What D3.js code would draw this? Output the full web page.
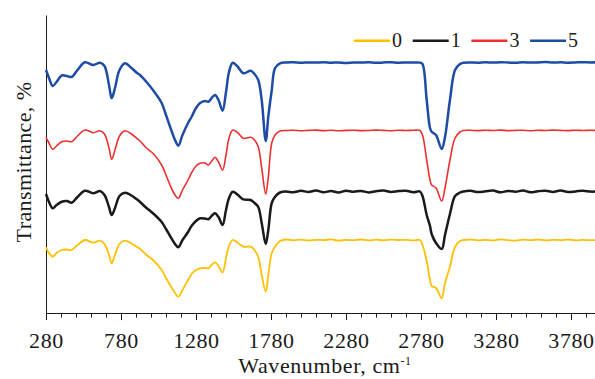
<!DOCTYPE html>
<html>
<head>
<meta charset="utf-8">
<script src="https://cdn.jsdelivr.net/npm/d3@7"></script>
<style>
  body { margin: 0; background: #fff; }
  svg { display: block; font-family: "Liberation Serif", "Times New Roman", serif; }
</style>
</head>
<body>
<svg id="chart" width="595" height="379"></svg>
<script>
// wavenumber, cm-1 (shared by all series)
const wavenumbers = [
    280, 300, 325, 350, 385, 420, 451, 490, 540, 595,
    640, 670, 700, 718, 740, 770, 807, 850, 885, 907,
    950, 993, 1051, 1080, 1107, 1140, 1162, 1190, 1227, 1250,
    1280, 1307, 1340, 1362, 1390, 1407, 1430, 1457, 1480, 1500,
    1525, 1560, 1595, 1645, 1670, 1695, 1718, 1745, 1762, 1785,
    1807, 1840, 1880, 1930, 1980, 2030, 2080, 2130, 2180, 2230,
    2280, 2330, 2380, 2430, 2480, 2530, 2580, 2630, 2680, 2730,
    2773, 2790, 2818, 2840, 2851, 2880, 2918, 2940, 2973, 3007,
    3040, 3062, 3110, 3160, 3210, 3260, 3310, 3360, 3410, 3460,
    3510, 3560, 3610, 3660, 3710, 3760, 3810, 3860, 3910, 3950
];

// transmittance (arbitrary units, curves are stacked)
const series0 = [
    65.7, 60, 56.3, 60, 63, 63.5, 63, 68, 73, 70.3,
    72.3, 69, 58, 49.7, 58, 69, 72.3, 69.5, 66.3, 64,
    58, 53, 43, 35, 28, 20, 16.3, 23, 33, 39,
    43, 44.7, 45, 44.7, 49, 50.7, 47, 40.3, 55, 67,
    73, 70, 66.3, 66.3, 63, 56, 38, 21.3, 38, 60,
    66.3, 72, 73.5, 72.7, 73.4, 72.5, 73.2, 72.9, 73.6, 72.4,
    73.1, 72.8, 73.5, 72.6, 73.3, 72.7, 73.4, 73, 73.2, 72.6,
    73, 68, 52, 33, 27, 25, 14.7, 30, 46.3, 66,
    72, 73, 73.4, 72.7, 73.2, 72.5, 73.6, 72.9, 72.4, 73.3,
    72.8, 73.5, 72.6, 73.2, 72.9, 73.4, 72.7, 73.1, 72.8, 73
];
const series1 = [
    119, 111, 104.7, 108, 111.3, 112, 110.3, 116, 122.3, 119.7,
    122, 118, 106, 98, 105, 117, 120.3, 117.5, 113.7, 111,
    105, 99.7, 91, 84, 77, 69, 65.7, 73, 81, 87,
    92, 94.7, 94.5, 93.7, 98, 99.7, 96, 88, 103, 115,
    121.3, 118, 113.7, 113, 110, 106, 90, 69, 83, 110,
    116.3, 120.5, 121.5, 120.7, 122.2, 121.1, 122.5, 120.8, 122, 120.5,
    122.3, 121.2, 122.1, 120.6, 121.8, 122.4, 121, 121.9, 122.2, 120.8,
    121.5, 117, 98, 87, 79, 70, 64, 78, 99, 117,
    120.5, 121.5, 122.2, 120.9, 121.7, 122.4, 120.7, 122, 121.3, 122.5,
    120.8, 121.8, 122.2, 121.1, 122.4, 121, 121.6, 122.3, 121.4, 121.5
];
const series3 = [
    175.7, 170, 163.7, 167, 171.3, 172, 171.3, 177, 183, 180.3,
    182.3, 179, 165, 153.7, 163, 177, 182.3, 179, 174.7, 172,
    165, 159.7, 148, 138, 128, 118, 114.7, 123, 133, 140,
    147, 149.7, 150, 148, 153, 155.7, 151, 143, 158, 175,
    183, 180, 174.7, 175.7, 173, 166.3, 145, 119, 136, 170,
    178, 182, 182.5, 182.7, 182.3, 182.6, 182.9, 182.4, 182.7, 182.2,
    182.6, 182.8, 182.4, 182.5, 182.9, 182.6, 182.3, 182.7, 182.5, 182.8,
    182.5, 178, 153, 133, 128, 125, 112, 125, 153, 175,
    181, 182.5, 182.7, 182.4, 182.8, 182.5, 182.9, 182.4, 182.6, 182.8,
    182.3, 182.7, 182.5, 182.9, 182.6, 182.4, 182.8, 182.5, 182.7, 182.6
];
const series5 = [
    243, 235, 227, 231, 237.5, 237, 236, 243, 250.7, 248,
    250.3, 247, 228, 214.7, 225, 243, 249.7, 245, 240.3, 238,
    231, 223, 210, 198, 186.3, 173, 167.3, 178, 190, 196,
    205, 210, 212, 211.3, 216, 218, 213, 202.3, 221, 241,
    250.3, 246, 239.7, 242.3, 239, 233, 213, 172, 196.3, 223,
    245, 249.7, 250.5, 250.7, 250.2, 250.6, 250.4, 250.8, 250.3, 250.5,
    250.1, 250.6, 250.4, 250.7, 250.2, 250.5, 250.8, 250.3, 250.6, 250.5,
    250.4, 249, 213, 185, 181.3, 178, 164, 176, 213, 243,
    249, 250.3, 250.6, 250.3, 250.7, 250.4, 250.8, 250.5, 250.2, 250.7,
    250.4, 250.6, 250.9, 250.4, 250.7, 250.3, 250.6, 250.8, 250.5, 250.7
];

const seriesNames = ["0", "1", "3", "5"];
const seriesValues = [series0, series1, series3, series5];
const seriesColors = ["#FFC000", "#1a1a1a", "#EE2F2F", "#1D4CA6"];
const seriesWidths = [1.8, 2.5, 1.6, 2.5];
const xTickLabels = [280, 780, 1280, 1780, 2280, 2780, 3280, 3780];

const svg = d3.select('#chart');
const x = d3.scaleLinear().domain([280, 4000]).range([46, 604]);
const y = d3.scaleLinear().domain([0, 298]).range([313, 15]);

// minor ticks every 100
svg.append('g')
    .attr('transform', 'translate(0,313)')
    .call(d3.axisBottom(x)
        .tickValues(d3.range(380, 4000, 100).filter(v => (v - 280) % 500 !== 0))
        .tickSize(4.5)
        .tickSizeOuter(0)
        .tickFormat(''))
    .call(g => g.select('.domain').remove());

// major ticks + labels
svg.append('g')
    .attr('transform', 'translate(0,313)')
    .call(d3.axisBottom(x)
        .tickValues(xTickLabels)
        .tickSize(7)
        .tickSizeOuter(0)
        .tickPadding(12)
        .tickFormat(d3.format('d')))
    .call(g => g.selectAll('text')
        .attr('font-family', '"Liberation Serif", serif')
        .attr('font-size', 22)
        .attr('letter-spacing', 0.6)
        .attr('fill', '#1a1a1a'));

svg.append('g')
    .attr('transform', 'translate(46,0)')
    .call(d3.axisLeft(y).tickValues([]).tickSizeOuter(0));

svg.selectAll('.domain, .tick line').attr('stroke', '#1a1a1a');

const line = d3.line()
    .x((d, i) => x(wavenumbers[i]))
    .y(d => y(d))
    .curve(d3.curveCatmullRom);

seriesValues.forEach(function(values, index) {
    svg.append('path')
        .datum(values)
        .attr('fill', 'none')
        .attr('stroke', seriesColors[index])
        .attr('stroke-width', seriesWidths[index])
        .attr('stroke-linejoin', 'round')
        .attr('d', line);
});

// axis titles
const xTitle = svg.append('text')
    .attr('x', 325)
    .attr('y', 373)
    .attr('text-anchor', 'middle')
    .attr('font-size', 22)
    .attr('letter-spacing', 0.6)
    .attr('fill', '#1a1a1a')
    .text('Wavenumber, cm');
xTitle.append('tspan')
    .attr('font-size', 12)
    .attr('dy', -8)
    .text('-1');

svg.append('text')
    .attr('transform', 'translate(31,162) rotate(-90)')
    .attr('text-anchor', 'middle')
    .attr('font-size', 22)
    .attr('letter-spacing', 0.4)
    .attr('fill', '#1a1a1a')
    .text('Transmittance, %');

// legend
const legendX = 354;
const legendStep = 58.7;
seriesNames.forEach(function(name, index) {
    const lx = legendX + index * legendStep;
    svg.append('line')
        .attr('x1', lx)
        .attr('x2', lx + 36)
        .attr('y1', 40.7)
        .attr('y2', 40.7)
        .attr('stroke', seriesColors[index])
        .attr('stroke-width', 2.5);
    svg.append('text')
        .attr('x', lx + 38)
        .attr('y', 46.5)
        .attr('font-size', 20)
        .attr('fill', '#1a1a1a')
        .text(name);
});
</script>
</body>
</html>
